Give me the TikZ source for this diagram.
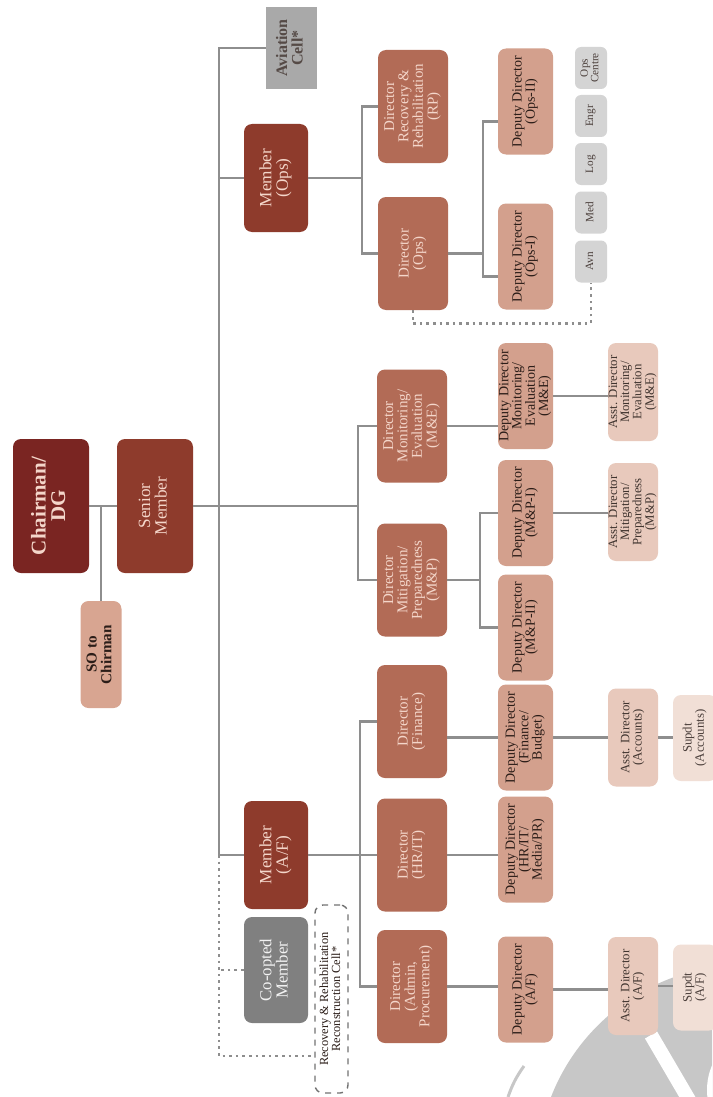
\documentclass[tikz,border=0pt]{standalone}
\usepackage{fontspec}
\setmainfont{Liberation Serif}
\definecolor{chairc}{HTML}{7A2522}
\definecolor{memc}{HTML}{8E3B2C}
\definecolor{dirc}{HTML}{B26B56}
\definecolor{depc}{HTML}{D3A08D}
\definecolor{asstc}{HTML}{E8C9BC}
\definecolor{supc}{HTML}{F1DFD6}
\definecolor{soc}{HTML}{D8A591}
\definecolor{smallc}{HTML}{D4D4D4}
\definecolor{avc}{HTML}{A9A9A9}
\definecolor{coc}{HTML}{808080}
\definecolor{linec}{HTML}{8E8E8E}
\definecolor{lighttxt}{HTML}{F4D6CA}
\definecolor{darktxt}{HTML}{2B1D18}
\newcommand{\rt}[1]{\rotatebox{90}{\begin{tabular}{@{}c@{}}#1\end{tabular}}}
\renewcommand{\arraystretch}{0.82}

\begin{document}
\begin{tikzpicture}[x=0.5pt, y=-0.5pt,
  box/.style={rounded corners=4pt, inner sep=0pt, align=center},
  chief/.style={box, fill=chairc, text=lighttxt, minimum width=38pt, minimum height=67pt,
    font=\bfseries\fontsize{10.5}{11.5}\selectfont},
  member/.style={box, fill=memc, text=lighttxt, minimum width=32pt, minimum height=54pt,
    font=\fontsize{8.6}{9.6}\selectfont},
  sobox/.style={box, fill=soc, text=darktxt, minimum width=20.5pt, minimum height=53.5pt,
    font=\bfseries\fontsize{7.6}{8.4}\selectfont},
  avbox/.style={fill=avc, text=darktxt!80, inner sep=0pt, minimum width=25.5pt, minimum height=41pt,
    font=\bfseries\fontsize{8}{8.8}\selectfont},
  coopt/.style={box, fill=coc, text=white!90!coc, minimum width=32pt, minimum height=53pt,
    font=\fontsize{8.4}{9.4}\selectfont},
  cell/.style={box, draw=linec!80!black, dashed, line width=0.7pt, text=darktxt, minimum width=16.5pt,
    minimum height=94pt, font=\fontsize{6.2}{7}\selectfont},
  director/.style={box, fill=dirc, text=lighttxt, minimum width=35pt, minimum height=56.5pt,
    font=\fontsize{7.5}{8.6}\selectfont},
  deputy/.style={box, fill=depc, text=darktxt, minimum width=27.5pt, minimum height=53pt,
    font=\fontsize{7}{7.6}\selectfont},
  unit/.style={box, rounded corners=3pt, fill=smallc, text=darktxt!85, minimum width=16pt, minimum height=21pt,
    font=\fontsize{5.6}{6.2}\selectfont},
  asst/.style={box, fill=asstc, text=darktxt!90, minimum width=25pt, minimum height=49pt,
    font=\fontsize{6.4}{7}\selectfont},
  supdt/.style={box, fill=supc, text=darktxt!85, minimum width=22pt, minimum height=43pt,
    font=\fontsize{6.4}{7}\selectfont},
  link/.style={draw=linec, line width=1.4pt},
  dotlink/.style={draw=linec, dotted, line width=1.3pt},
  wmark/.style={fill=black!22},
]
\useasboundingbox (0,0) rectangle (712,1097);
\fill[white] (0,0) rectangle (712,1097);

% watermark
\begin{scope}
  \clip (0,0) rectangle (712,1097);
  \fill[wmark] (744,1172) circle[radius=103.5pt];
  \draw[white, line width=7pt] (651,1035) -- (692,1105);
  \draw[white, line width=3pt] (770,1090) circle[radius=30pt];
  \draw[black!22, line width=1.5pt] (508,1097) to[bend left=8] (524,1066);
\end{scope}

% top level
\node[chief] (chair) at (51,506) {\rt{Chairman/\\DG}};
\node[member, minimum width=38pt, minimum height=67pt] (senior) at (155,506) {\rt{Senior\\Member}};
\node[sobox] (so) at (101,654.5) {\rt{SO to\\Chirman}};
\node[avbox] (aviation) at (291.5,48) {\rt{Aviation\\Cell*}};
\node[member] (memops) at (276,178) {\rt{Member\\(Ops)}};
\node[member] (memaf) at (276,855) {\rt{Member\\(A/F)}};
\node[coopt] (coopt) at (276,970) {\rt{Co-opted\\Member}};
\node[cell] (rrcell) at (331.5,999) {\rt{Recovery \& Rehabilitation\\Reconstruction Cell*}};

% directors
\node[director] (dirrr) at (413,106.5) {\rt{Director\\Recovery \&\\Rehabilitation\\(RP)}};
\node[director] (dirops) at (413,253.5) {\rt{Director\\(Ops)}};
\node[director] (dirme) at (412,426) {\rt{Director\\Monitoring/\\Evaluation\\(M\&E)}};
\node[director] (dirmp) at (412,580) {\rt{Director\\Mitigation/\\Preparedness\\(M\&P)}};
\node[director] (dirfin) at (412,721.5) {\rt{Director\\(Finance)}};
\node[director] (dirhr) at (412,855) {\rt{Director\\(HR/IT)}};
\node[director] (diradm) at (412,986.5) {\rt{Director\\(Admin,\\Procurement)}};

% deputy directors
\node[deputy] (ddops2) at (525.5,101.5) {\rt{Deputy Director\\(Ops-II)}};
\node[deputy] (ddops1) at (525.5,256.5) {\rt{Deputy Director\\(Ops-I)}};
\node[deputy] (ddme) at (525.5,396) {\rt{Deputy Director\\Monitoring/\\Evaluation\\(M\&E)}};
\node[deputy] (ddmp1) at (525.5,513) {\rt{Deputy Director\\(M\&P-I)}};
\node[deputy] (ddmp2) at (525.5,627.5) {\rt{Deputy Director\\(M\&P-II)}};
\node[deputy] (ddfin) at (525.5,737.5) {\rt{Deputy Director\\(Finance/\\Budget)}};
\node[deputy] (ddhr) at (525.5,849.5) {\rt{Deputy Director\\(HR/IT/\\Media/PR)}};
\node[deputy] (ddaf) at (525.5,989.5) {\rt{Deputy Director\\(A/F)}};

% ops units
\node[unit] (opsc) at (591,68) {\rt{Ops\\Centre}};
\node[unit] (engr) at (591,116) {\rt{Engr}};
\node[unit] (log) at (591,164) {\rt{Log}};
\node[unit] (med) at (591,212.5) {\rt{Med}};
\node[unit] (avn) at (591,261.5) {\rt{Avn}};

% assistant directors and supdts
\node[asst] (asme) at (633,392) {\rt{Asst. Director\\Monitoring/\\Evaluation\\(M\&E)}};
\node[asst] (asmp) at (633,512) {\rt{Asst. Director\\Mitigation/\\Preparedness\\(M\&P)}};
\node[asst] (asacc) at (633,737.5) {\rt{Asst. Director\\(Accounts)}};
\node[asst] (asaf) at (633,986) {\rt{Asst. Director\\(A/F)}};
\node[supdt] (spacc) at (695,738) {\rt{Supdt\\(Accounts)}};
\node[supdt] (spaf) at (695,987.5) {\rt{Supdt\\(A/F)}};

% bus lines
\coordinate (tk) at (219,0);
\coordinate (bm) at (358,0);
\coordinate (bp) at (480,0);
\coordinate (bo) at (362,0);
\coordinate (bd) at (483,0);
\coordinate (ba) at (360,0);
\coordinate (cb) at (219,1056);
\coordinate (o2) at ([yshift=-10pt]ddops2.west);
\coordinate (o1) at ([yshift=-10pt]ddops1.west);

\draw[link] (chair.east) -- (senior.west);
\draw[link] (so.north) -- (so.north |- chair.east);
\draw[link] (aviation.west) -| (tk |- memaf.west) -- (memaf.west);
\draw[link] (memops.west) -- (tk |- memops.west);
\draw[link] (senior.east) -- (bm |- senior.east);
\draw[link] (dirme.west) -| (bm |- dirmp.west) -- (dirmp.west);
\draw[link] (dirme.east) -- (dirme.east -| ddme.west);
\draw[link] (ddme.east) -- (ddme.east -| asme.west);
\draw[link] (dirmp.east) -- (bp |- dirmp.east);
\draw[link] (ddmp1.west) -| (bp |- ddmp2.west) -- (ddmp2.west);
\draw[link] (ddmp1.east) -- (ddmp1.east -| asmp.west);
\draw[link] (memops.east) -- (bo |- memops.east);
\draw[link] (dirrr.west) -| (bo |- dirops.west) -- (dirops.west);
\draw[link] (dirops.east) -- (bd |- dirops.east);
\draw[link] (o2) -| (bd |- o1) -- (o1);
\draw[link] (memaf.east) -- (memaf.east -| dirhr.west);
\draw[link] (dirfin.west) -| (ba |- diradm.west) -- (diradm.west);
\draw[link] (ddfin.west -| dirfin.east) -- (ddfin.west);
\draw[link] (ddfin.east) -- (ddfin.east -| asacc.west);
\draw[link] (asacc.east) -- (asacc.east -| spacc.west);
\draw[link] (dirhr.east) -- (dirhr.east -| ddhr.west);
\draw[link] (diradm.east) -- (diradm.east -| ddaf.west);
\draw[link] (ddaf.east) -- (ddaf.east -| asaf.west);
\draw[link] (asaf.east) -- (asaf.east -| spaf.west);

% dotted links
\draw[dotlink] (tk |- memaf.west) -- (cb) -- (cb -| rrcell.west);
\draw[dotlink] (coopt.west) -- (tk |- coopt.west);
\draw[dotlink] (dirops.south) -- ++(0,13) -| (avn.south);
\end{tikzpicture}
\end{document}
